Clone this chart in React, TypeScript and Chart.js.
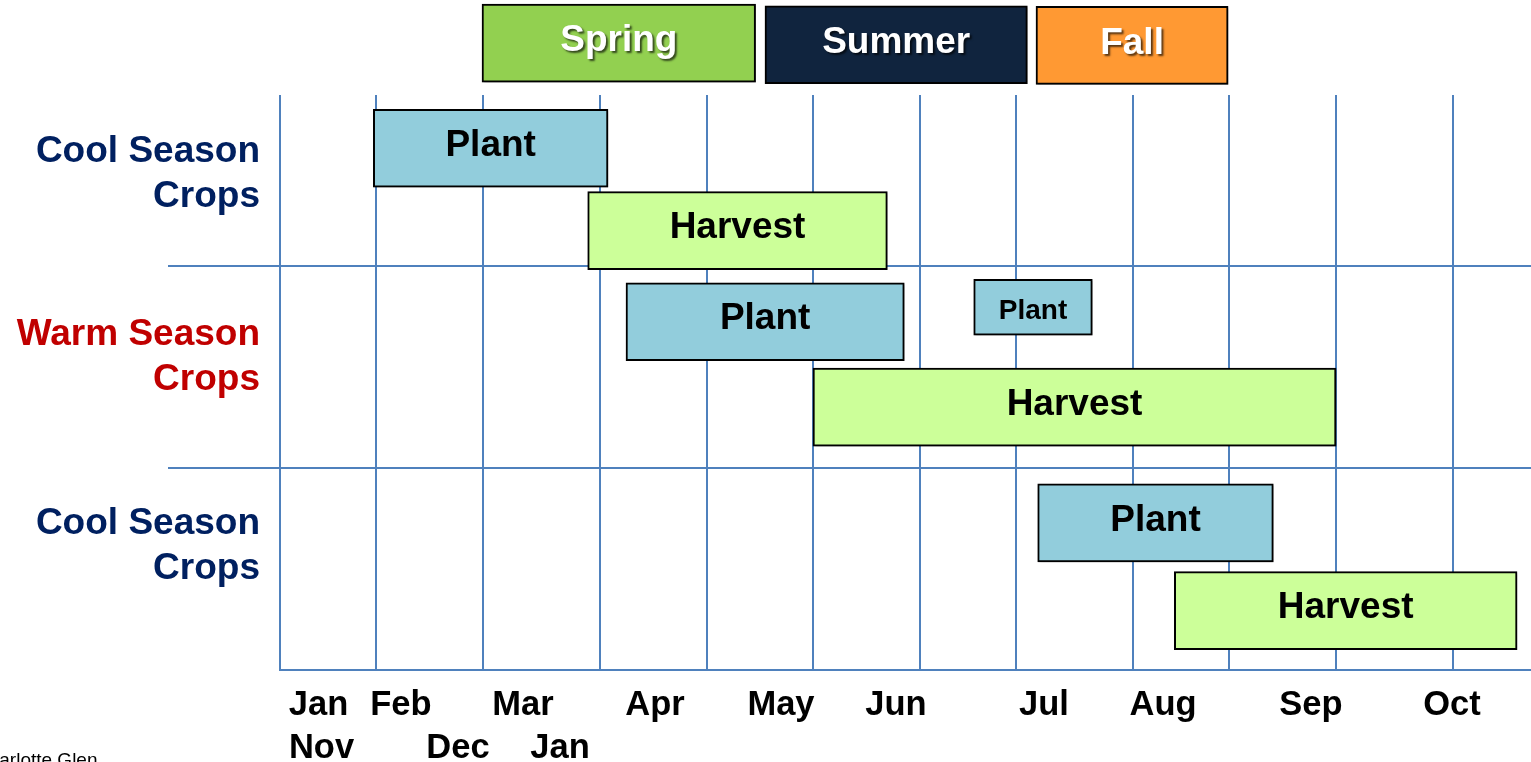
import React, { useEffect, useRef } from 'react';
import { Chart, registerables } from 'chart.js';

Chart.register(...registerables);

// ---- Data (x in month units along the calendar strip, y in row-band units) ----
const seasonNames = ['Spring', 'Summer', 'Fall'];
const seasonStart = [1.894, 4.547, 7.088];
const seasonEnd = [4.459, 7.007, 8.889];
const seasonLane = [-0.107, -0.099, -0.096];
const seasonColors = ['#92D050', '#10243E', '#FF9933'];

const plantStart = [0.875, 3.244, 7.104];
const plantEnd = [3.075, 5.853, 9.313];
const plantLane = [0.414, 1.274, 2.271];

const latePlantStart = [6.504];
const latePlantEnd = [7.616];
const latePlantLane = [1.202];

const harvestStart = [2.885, 4.997, 8.385];
const harvestEnd = [5.694, 9.901, 11.598];
const harvestLane = [0.822, 1.697, 2.706];

const cropGroups = [['Cool Season', 'Crops'], ['Warm Season', 'Crops'], ['Cool Season', 'Crops']];
const cropGroupColors = ['#002060', '#C00000', '#002060'];
const cropGroupLane = [0.542, 1.449, 2.386];
const bandBreaks = [1, 2];

const monthGrid = [0, 0.9, 1.9, 3, 4, 5, 6, 6.9, 8, 8.9, 9.9, 11];
const monthLabels = ['Jan', 'Feb', 'Mar', 'Apr', 'May', 'Jun', 'Jul', 'Aug', 'Sep', 'Oct'];
const monthLabelPos = [0.361, 1.134, 2.278, 3.516, 4.697, 5.775, 7.163, 8.279, 9.666, 10.988];
const lateMonthLabels = ['Nov', 'Dec', 'Jan'];
const lateMonthLabelPos = [0.389, 1.669, 2.625];

const X_MAX = 11.729;
const Y_MIN = 0.15;
const Y_MAX = 3;

const FONT = '"Liberation Sans", Arial, Helvetica, sans-serif';
const GRID_BLUE = '#4F81BD';

const toBars = (starts: number[], ends: number[], lanes: number[]) =>
  starts.map((s, i) => ({ x: [s, ends[i]], y: lanes[i] }));

const shadowPlugin = {
  id: 'barShadow',
  beforeDatasetDraw(chart: any) {
    const ctx = chart.ctx;
    ctx.save();
    ctx.shadowColor = 'rgba(0,0,0,0.35)';
    ctx.shadowBlur = 3;
    ctx.shadowOffsetX = 1.5;
    ctx.shadowOffsetY = 1.5;
  },
  afterDatasetDraw(chart: any) {
    chart.ctx.restore();
  },
};

const barTextPlugin = {
  id: 'barText',
  afterDatasetsDraw(chart: any) {
    const ctx = chart.ctx;
    chart.data.datasets.forEach((ds: any, di: number) => {
      const meta = chart.getDatasetMeta(di);
      meta.data.forEach((el: any, i: number) => {
        const text = Array.isArray(ds.barText) ? ds.barText[i] : ds.barText;
        const { x, y, base } = el.getProps(['x', 'y', 'base'], true);
        ctx.save();
        ctx.font = `bold ${ds.textSize}px ${FONT}`;
        ctx.textAlign = 'center';
        ctx.textBaseline = 'middle';
        ctx.fillStyle = ds.textColor;
        if (ds.textShadow) {
          ctx.shadowColor = 'rgba(0,0,0,0.65)';
          ctx.shadowBlur = 2;
          ctx.shadowOffsetX = 2;
          ctx.shadowOffsetY = 2;
        }
        ctx.fillText(text, (x + base) / 2, y + ds.textOffset);
        ctx.restore();
      });
    });
  },
};

const creditPlugin = {
  id: 'credit',
  afterDraw(chart: any) {
    const ctx = chart.ctx;
    ctx.save();
    ctx.font = `19px ${FONT}`;
    ctx.fillStyle = '#000';
    ctx.textAlign = 'left';
    ctx.textBaseline = 'alphabetic';
    ctx.fillText('Charlotte Glen', -25, 766);
    ctx.restore();
  },
};

export default function App() {
  const canvasRef = useRef<HTMLCanvasElement | null>(null);

  useEffect(() => {
    if (!canvasRef.current) return;
    Chart.defaults.font.family = FONT;

    const common = {
      borderColor: '#000',
      borderWidth: 2,
      borderSkipped: false,
      grouped: false,
      xAxisID: 'x',
      yAxisID: 'y',
    };

    const chart = new Chart(canvasRef.current, {
      type: 'bar',
      data: {
        datasets: [
          {
            ...common,
            label: 'Seasons',
            data: toBars(seasonStart, seasonEnd, seasonLane),
            backgroundColor: seasonColors,
            barThickness: 78,
            clip: false,
            barText: seasonNames,
            textColor: '#FFFFFF',
            textShadow: true,
            textSize: 37,
            textOffset: -2,
          },
          {
            ...common,
            label: 'Plant',
            data: toBars(plantStart, plantEnd, plantLane),
            backgroundColor: '#92CDDC',
            barThickness: 78,
            barText: 'Plant',
            textColor: '#000',
            textSize: 37,
            textOffset: -2.5,
          },
          {
            ...common,
            label: 'Plant (late)',
            data: toBars(latePlantStart, latePlantEnd, latePlantLane),
            backgroundColor: '#92CDDC',
            barThickness: 56,
            barText: 'Plant',
            textColor: '#000',
            textSize: 28,
            textOffset: 4,
          },
          {
            ...common,
            label: 'Harvest',
            data: toBars(harvestStart, harvestEnd, harvestLane),
            backgroundColor: '#CCFF99',
            barThickness: 78,
            barText: 'Harvest',
            textColor: '#000',
            textSize: 37,
            textOffset: -2.5,
          },
        ] as any,
      },
      options: {
        indexAxis: 'y',
        animation: false,
        responsive: true,
        maintainAspectRatio: false,
        events: [],
        layout: { padding: { top: 95, left: 0, right: 0, bottom: -9.4 } },
        plugins: {
          legend: { display: false },
          tooltip: { enabled: false },
          title: { display: false },
        },
        scales: {
          x: {
            type: 'linear',
            position: 'bottom',
            weight: 0,
            min: 0,
            max: X_MAX,
            offset: false,
            afterBuildTicks: (s: any) => {
              s.ticks = monthGrid.map((v) => ({ value: v }));
            },
            grid: {
              color: GRID_BLUE,
              lineWidth: 2,
              drawTicks: true,
              tickLength: 16,
              tickColor: 'rgba(0,0,0,0)',
              offset: false,
            },
            border: { display: true, color: GRID_BLUE, width: 2 },
            ticks: { display: false },
          },
          x2: {
            type: 'linear',
            position: 'bottom',
            weight: 1,
            min: 0,
            max: X_MAX,
            offset: false,
            afterBuildTicks: (s: any) => {
              s.ticks = monthLabelPos.map((v) => ({ value: v }));
            },
            grid: { display: false, drawTicks: false },
            border: { display: false },
            ticks: {
              autoSkip: false,
              maxRotation: 0,
              minRotation: 0,
              padding: 2.55,
              color: '#000',
              font: { size: 34.5, weight: 'bold', lineHeight: 1.0 },
              callback: (_v: any, i: number) => monthLabels[i],
            },
          },
          x3: {
            type: 'linear',
            position: 'bottom',
            weight: 2,
            min: 0,
            max: X_MAX,
            offset: false,
            afterBuildTicks: (s: any) => {
              s.ticks = lateMonthLabelPos.map((v) => ({ value: v }));
            },
            grid: { display: false, drawTicks: false },
            border: { display: false },
            ticks: {
              autoSkip: false,
              maxRotation: 0,
              minRotation: 0,
              padding: 5.65,
              color: '#000',
              font: { size: 34.5, weight: 'bold', lineHeight: 1.0 },
              callback: (_v: any, i: number) => lateMonthLabels[i],
            },
          },
          y: {
            type: 'linear',
            position: 'left',
            reverse: true,
            min: Y_MIN,
            max: Y_MAX,
            offset: false,
            z: 1,
            afterBuildTicks: (s: any) => {
              s.ticks = [...cropGroupLane, ...bandBreaks]
                .sort((a, b) => a - b)
                .map((v) => ({ value: v }));
            },
            afterFit: (s: any) => {
              s.width = 280;
            },
            grid: {
              color: (c: any) => (bandBreaks.includes(c.tick?.value) ? GRID_BLUE : 'rgba(0,0,0,0)'),
              lineWidth: 2,
              drawTicks: true,
              tickLength: 112,
              offset: false,
            },
            border: { display: false },
            ticks: {
              autoSkip: false,
              padding: -92,
              font: { size: 37, weight: 'bold', lineHeight: 1.216 },
              color: (c: any) => {
                const i = cropGroupLane.indexOf(c.tick?.value);
                return i >= 0 ? cropGroupColors[i] : '#000';
              },
              callback: (v: any) => {
                const i = cropGroupLane.indexOf(v);
                return i >= 0 ? cropGroups[i] : '';
              },
            },
          },
        },
      } as any,
      plugins: [shadowPlugin, barTextPlugin, creditPlugin],
    });

    return () => chart.destroy();
  }, []);

  return (
    <div style={{ position: 'fixed', left: 0, top: 0, width: '1531px', height: '762px', background: '#fff' }}>
      <canvas ref={canvasRef} />
    </div>
  );
}
